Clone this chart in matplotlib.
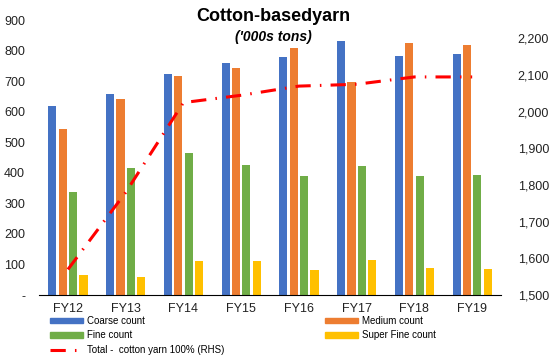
import numpy as np
import matplotlib.pyplot as plt
from matplotlib.patches import Patch
from matplotlib.lines import Line2D

plt.rcParams['font.family'] = ['Liberation Sans', 'DejaVu Sans']

# data ('000s tons)
years = ["FY12", "FY13", "FY14", "FY15", "FY16", "FY17", "FY18", "FY19"]
coarse = [618, 657, 725, 758, 778, 830, 784, 788]
medium = [543, 641, 716, 742, 810, 699, 824, 820]
fine = [337, 415, 464, 425, 389, 423, 389, 392]
super_fine = [65, 59, 111, 111, 82, 114, 88, 85]
total_rhs = [1570, 1780, 2025, 2045, 2070, 2075, 2095, 2095]

colors = ["#4472C4", "#ED7D31", "#70AD47", "#FFC000"]
names = ["Coarse count", "Medium count", "Fine count", "Super Fine count"]

fig = plt.figure(figsize=(5.5, 3.59), dpi=100)
ax = fig.add_axes([0.071, 0.178, 0.84, 0.766])
ax2 = ax.twinx()

x = np.arange(len(years))
w = 0.14
step = 0.18
series = [coarse, medium, fine, super_fine]
for i, s in enumerate(series):
    ax.bar(x + (i - 1.5) * step, s, width=w, color=colors[i], zorder=2)

ax2.plot(x, total_rhs, color="#FF0000", lw=2.2, linestyle=(0, (5, 3, 0.5, 3)), zorder=3)

ax.set_xlim(-0.5, len(years) - 0.5)
ax.set_ylim(0, 900)
ax.set_yticks(range(0, 901, 100))
ax.set_yticklabels(["-"] + [str(v) for v in range(100, 901, 100)])
ax2.set_ylim(1500, 2250)
ax2.set_yticks(range(1500, 2201, 100))
ax2.set_yticklabels([f"{v:,}" for v in range(1500, 2201, 100)])
ax.set_xticks(x)
ax.set_xticklabels(years)

for a in (ax, ax2):
    for sp in ["top", "right", "left"]:
        a.spines[sp].set_visible(False)
    a.spines["bottom"].set_visible(False)
ax.spines["bottom"].set_visible(True)
ax.spines["bottom"].set_color("#000000")
ax.spines["bottom"].set_linewidth(0.8)

ax.tick_params(axis="y", length=0, pad=10, labelsize=9, colors="#222222")
ax2.tick_params(axis="y", length=0, pad=12, labelsize=9, colors="#222222")
ax.tick_params(axis="x", length=0, pad=6, labelsize=9, colors="#222222")

fig.text(0.497, 0.953, "Cotton-basedyarn", ha="center", va="center",
         fontsize=13, fontweight="bold")
fig.text(0.497, 0.897, "('000s tons)", ha="center", va="center",
         fontsize=10, fontweight="bold", fontstyle="italic")

h = [Patch(color=c) for c in colors]
line_h = Line2D([0], [0], color="#FF0000", lw=2.2, linestyle=(0, (5, 3, 0.5, 3)))
kw = dict(frameon=False, fontsize=7, borderpad=0, borderaxespad=0,
          handlelength=3.4, handleheight=0.5, handletextpad=0.35, labelspacing=0.45)
fig.legend([h[0], h[2], line_h], [names[0], names[2], "Total -  cotton yarn 100% (RHS)"],
           loc="upper left", bbox_to_anchor=(0.091, 0.12), **kw)
fig.legend([h[1], h[3]], [names[1], names[3]],
           loc="upper left", bbox_to_anchor=(0.591, 0.12), **kw)

fig.savefig("out.png", dpi=100)
